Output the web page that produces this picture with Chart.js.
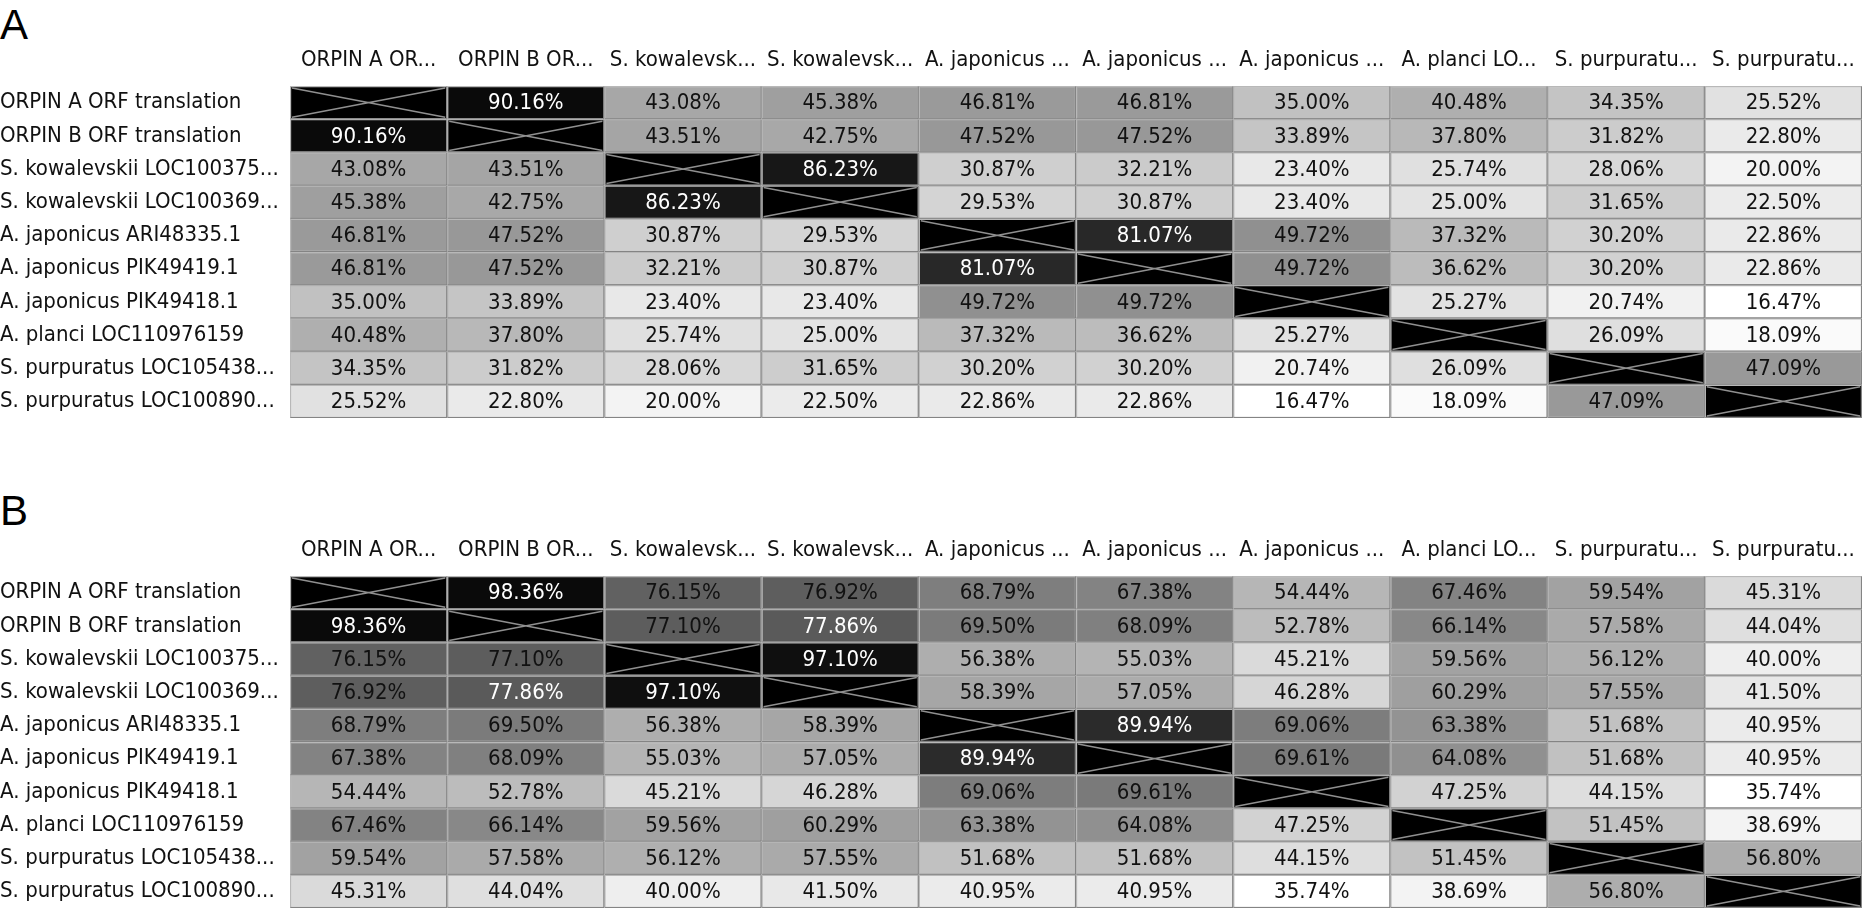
<!DOCTYPE html>
<html>
<head>
<meta charset="utf-8">
<script src="https://cdn.jsdelivr.net/npm/chart.js@4.4.1/dist/chart.umd.min.js"></script>
<style>
  body { margin: 0; background: #fff; width: 1865px; height: 916px; overflow: hidden; position: relative; }
  canvas { position: absolute; left: 0; }
  .panel { position: absolute; left: 0; font-family: 'Liberation Sans', Arial, sans-serif; font-size: 42px; line-height: 42px; color: #000; }
</style>
</head>
<body>
<div class="panel" style="top:4px">A</div>
<div class="panel" style="top:490px">B</div>
<canvas id="chartA" width="1865" height="420" style="top:0"></canvas>
<canvas id="chartB" width="1865" height="420" style="top:490px"></canvas>
<script>
// sequence names, rows (full) and columns (truncated like the viewer does)
const rowLabels = ['ORPIN A ORF translation', 'ORPIN B ORF translation', 'S. kowalevskii LOC100375...',
    'S. kowalevskii LOC100369...', 'A. japonicus ARI48335.1', 'A. japonicus PIK49419.1',
    'A. japonicus PIK49418.1', 'A. planci LOC110976159', 'S. purpuratus LOC105438...',
    'S. purpuratus LOC100890...'];
const colLabels = ['ORPIN A OR...', 'ORPIN B OR...', 'S. kowalevsk...', 'S. kowalevsk...',
    'A. japonicus ...', 'A. japonicus ...', 'A. japonicus ...', 'A. planci LO...',
    'S. purpuratu...', 'S. purpuratu...'];

// A: pairwise identity (%), null = diagonal
const identityA = [
    [null, 90.16, 43.08, 45.38, 46.81, 46.81, 35.00, 40.48, 34.35, 25.52],
    [90.16, null, 43.51, 42.75, 47.52, 47.52, 33.89, 37.80, 31.82, 22.80],
    [43.08, 43.51, null, 86.23, 30.87, 32.21, 23.40, 25.74, 28.06, 20.00],
    [45.38, 42.75, 86.23, null, 29.53, 30.87, 23.40, 25.00, 31.65, 22.50],
    [46.81, 47.52, 30.87, 29.53, null, 81.07, 49.72, 37.32, 30.20, 22.86],
    [46.81, 47.52, 32.21, 30.87, 81.07, null, 49.72, 36.62, 30.20, 22.86],
    [35.00, 33.89, 23.40, 23.40, 49.72, 49.72, null, 25.27, 20.74, 16.47],
    [40.48, 37.80, 25.74, 25.00, 37.32, 36.62, 25.27, null, 26.09, 18.09],
    [34.35, 31.82, 28.06, 31.65, 30.20, 30.20, 20.74, 26.09, null, 47.09],
    [25.52, 22.80, 20.00, 22.50, 22.86, 22.86, 16.47, 18.09, 47.09, null]
];

// B: pairwise similarity (%)
const similarityB = [
    [null, 98.36, 76.15, 76.92, 68.79, 67.38, 54.44, 67.46, 59.54, 45.31],
    [98.36, null, 77.10, 77.86, 69.50, 68.09, 52.78, 66.14, 57.58, 44.04],
    [76.15, 77.10, null, 97.10, 56.38, 55.03, 45.21, 59.56, 56.12, 40.00],
    [76.92, 77.86, 97.10, null, 58.39, 57.05, 46.28, 60.29, 57.55, 41.50],
    [68.79, 69.50, 56.38, 58.39, null, 89.94, 69.06, 63.38, 51.68, 40.95],
    [67.38, 68.09, 55.03, 57.05, 89.94, null, 69.61, 64.08, 51.68, 40.95],
    [54.44, 52.78, 45.21, 46.28, 69.06, 69.61, null, 47.25, 44.15, 35.74],
    [67.46, 66.14, 59.56, 60.29, 63.38, 64.08, 47.25, null, 51.45, 38.69],
    [59.54, 57.58, 56.12, 57.55, 51.68, 51.68, 44.15, 51.45, null, 56.80],
    [45.31, 44.04, 40.00, 41.50, 40.95, 40.95, 35.74, 38.69, 56.80, null]
];

const FONT = "'DejaVu Sans Condensed', 'DejaVu Sans', sans-serif";
Chart.defaults.font.family = FONT;
Chart.defaults.font.size = 22;
Chart.defaults.color = '#111';

function grayOf(v, lo, hi) {
    const t = (v - lo) / (hi - lo);
    return Math.round(255 - 245 * t);
}

// labels and the crossed-out diagonal, drawn on top of the bar cells
const cellText = {
    id: 'cellText',
    afterDatasetsDraw(chart, args, opts) {
        const ctx = chart.ctx;
        const m = opts.matrix;
        ctx.save();
        ctx.font = '22px ' + FONT;
        ctx.textAlign = 'center';
        ctx.textBaseline = 'middle';
        chart.data.datasets.forEach((ds, j) => {
            chart.getDatasetMeta(j).data.forEach((bar, i) => {
                const p = bar.getProps(['x', 'y', 'base', 'height'], true);
                const left = Math.min(p.x, p.base), right = Math.max(p.x, p.base);
                const top = p.y - p.height / 2, bottom = p.y + p.height / 2;
                const v = m[i][j];
                // thin dark line inside the light cell border
                ctx.strokeStyle = 'rgba(90,90,90,0.55)';
                ctx.lineWidth = 1;
                ctx.beginPath();
                ctx.moveTo(left + 0.5, bottom - 0.5);
                ctx.lineTo(right - 0.5, bottom - 0.5);
                ctx.lineTo(right - 0.5, top + 0.5);
                ctx.stroke();
                if (v === null) {
                    ctx.strokeStyle = '#909090';
                    ctx.lineWidth = 1.5;
                    ctx.beginPath();
                    ctx.moveTo(left + 2, top + 2);
                    ctx.lineTo(right - 2, bottom - 2);
                    ctx.moveTo(left + 2, bottom - 2);
                    ctx.lineTo(right - 2, top + 2);
                    ctx.stroke();
                } else {
                    ctx.fillStyle = grayOf(v, opts.lo, opts.hi) < 92 ? '#fff' : '#111';
                    ctx.fillText(v.toFixed(2) + '%', (left + right) / 2, p.y + 1);
                }
            });
        });
        ctx.restore();
    }
};

function heatmap(id, matrix) {
    const vals = matrix.flat().filter(v => v !== null);
    const lo = Math.min(...vals), hi = Math.max(...vals);
    const datasets = colLabels.map((c, j) => ({
        label: c,
        data: rowLabels.map(() => [j, j + 1]),
        backgroundColor: ctx => {
            const v = matrix[ctx.dataIndex][j];
            if (v === null) return '#000';
            const g = grayOf(v, lo, hi);
            return 'rgb(' + g + ',' + g + ',' + g + ')';
        },
        borderColor: '#b8b8b8',
        borderWidth: 1.5,
        borderSkipped: false,
        grouped: false,
        barPercentage: 1,
        categoryPercentage: 1
    }));
    return new Chart(document.getElementById(id), {
        type: 'bar',
        data: { labels: rowLabels, datasets: datasets },
        options: {
            indexAxis: 'y',
            responsive: false,
            animation: false,
            layout: { padding: { left: 0, right: 3, top: 0, bottom: 2 } },
            plugins: {
                legend: { display: false },
                tooltip: { enabled: false },
                cellText: { matrix: matrix, lo: lo, hi: hi }
            },
            scales: {
                x: { type: 'linear', min: 0, max: colLabels.length, display: false },
                x2: {
                    type: 'category',
                    labels: colLabels,
                    position: 'top',
                    offset: true,
                    grid: { display: false },
                    border: { display: false },
                    ticks: { autoSkip: false, maxRotation: 0, padding: 5 },
                    afterFit: s => { s.height = 86; s.paddingLeft = 0; s.paddingRight = 0; }
                },
                y: {
                    grid: { display: false },
                    border: { display: false },
                    ticks: { crossAlign: 'far', autoSkip: false },
                    afterFit: s => { s.width = 290; s.paddingTop = 0; s.paddingBottom = 0; }
                }
            }
        },
        plugins: [cellText]
    });
}

heatmap('chartA', identityA);
heatmap('chartB', similarityB);
</script>
</body>
</html>
